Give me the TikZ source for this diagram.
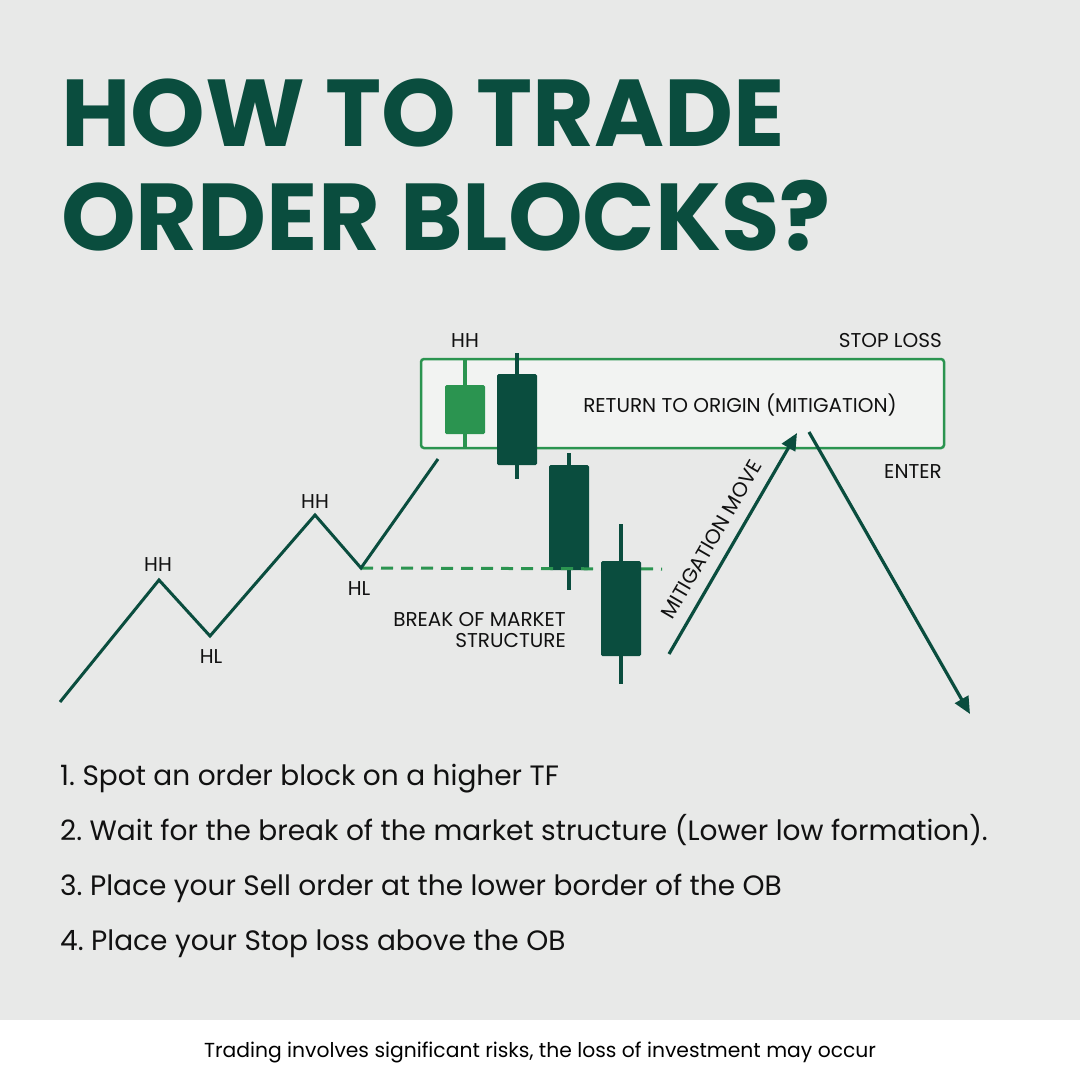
\documentclass[tikz,border=0pt]{standalone}
\usepackage{fontspec}
\setmainfont{Poppins}
\usetikzlibrary{arrows.meta}
\definecolor{bg}{HTML}{E8E9E8}
\definecolor{dgreen}{HTML}{0A4D3E}
\definecolor{lgreen}{HTML}{2B9450}
\definecolor{boxfill}{HTML}{F2F3F2}
\definecolor{txt}{HTML}{111111}
\tikzset{
  zig/.style={draw=dgreen, line width=3pt, line join=miter},
  lbl/.style={font=\fontsize{20}{24}\selectfont, text=txt, inner sep=0pt},
  wick/.style={draw=dgreen, line width=4pt},
  body/.style={fill=dgreen, rounded corners=1.5pt},
  arr/.style={draw=dgreen, line width=3.2pt, -{Triangle[length=17pt,width=15pt]}},
  stepline/.style={font=\fontsize{28}{32}\selectfont, text=txt, anchor=base west, inner sep=0pt},
  titleline/.style={anchor=base west, inner sep=0pt, text=dgreen, font=\fontsize{95}{100}\bfseries},
}
\frenchspacing
\begin{document}
\begin{tikzpicture}[x=1pt,y=-1pt]
\useasboundingbox (0,0) rectangle (1080,1080);
\fill[bg] (0,0) rectangle (1080,1020);
\fill[white] (0,1020) rectangle (1080,1080);
% title
\node[titleline] (t1) at (61,146) {HOW TO TRADE};
\node[titleline] (t2) at (61,250) {ORDER BLOCKS?};
% order block box
\node[draw=lgreen, fill=boxfill, line width=2.5pt, rounded corners=3pt, minimum width=523pt, minimum height=89pt, inner sep=0pt] (ob) at (682.5,403.5) {};
\node[lbl] (rto) at (740,405) {RETURN TO ORIGIN (MITIGATION)};
\node[lbl, anchor=base east] (sl) at (942,347) {STOP LOSS};
\node[lbl, anchor=base east] (en) at (942,478) {ENTER};
% green candle
\draw[draw=lgreen, line width=4pt] (465,359) -- (465,448);
\fill[lgreen, rounded corners=1.5pt] (445,385) rectangle (485,434);
\node[lbl, anchor=base] (hh3) at (465,347) {HH};
% dark candles
\draw[wick] (517,353) -- (517,479);
\fill[body] (497,374) rectangle (537,465);
\draw[wick] (569,453) -- (569,590);
\fill[body] (549,465) rectangle (589,570);
% dashed BOS line
\coordinate (p0) at (60,702);
\coordinate (p1) at (159,580);
\coordinate (p2) at (210,636);
\coordinate (p3) at (315,515);
\coordinate (p4) at (361,568);
\coordinate (p5) at (438,459);
\coordinate (bosend) at (662,569);
\draw[draw=lgreen, line width=3pt, dash pattern=on 12pt off 8pt] (p4) -- (bosend);
\draw[wick] (621,524) -- (621,684);
\fill[body] (601,561) rectangle (641,656);
% zigzag
\draw[zig] (p0) -- (p1) -- (p2) -- (p3) -- (p4) -- (p5);
\node[lbl, anchor=base] (hh1) at (158,571) {HH};
\node[lbl, anchor=base] (hl1) at (211,663) {HL};
\node[lbl, anchor=base] (hh2) at (315,508) {HH};
\node[lbl, anchor=base] (hl2) at (359,595) {HL};
\node[lbl, anchor=base east] (bos1) at (566,626) {BREAK OF MARKET};
\node[lbl, anchor=base east] (bos2) at (566,647) {STRUCTURE};
% arrows
\coordinate (m0) at (669,654);
\coordinate (m1) at (797,433);
\coordinate (d0) at (809,432);
\coordinate (d1) at (970,714);
\draw[arr] (m0) -- (m1);
\draw[arr] (d0) -- (d1);
\node[lbl, font=\fontsize{20.5}{24}\selectfont, rotate=59.9] (mm) at (711.5,539.5) {MITIGATION MOVE};
% steps
\node[stepline] (s1) at (60,785) {1. Spot an order block on a higher TF};
\node[stepline] (s2) at (60,840) {2. Wait for the break of the market structure (Lower low formation).};
\node[stepline] (s3) at (60,895) {3. Place your Sell order at the lower border of the OB};
\node[stepline] (s4) at (60,950) {4. Place your Stop loss above the OB};
% footer
\node[anchor=base, inner sep=0pt, text=black, font=\fontsize{20.3}{24}\selectfont] (ft) at (540,1057) {Trading involves significant risks, the loss of investment may occur};
\end{tikzpicture}
\end{document}
